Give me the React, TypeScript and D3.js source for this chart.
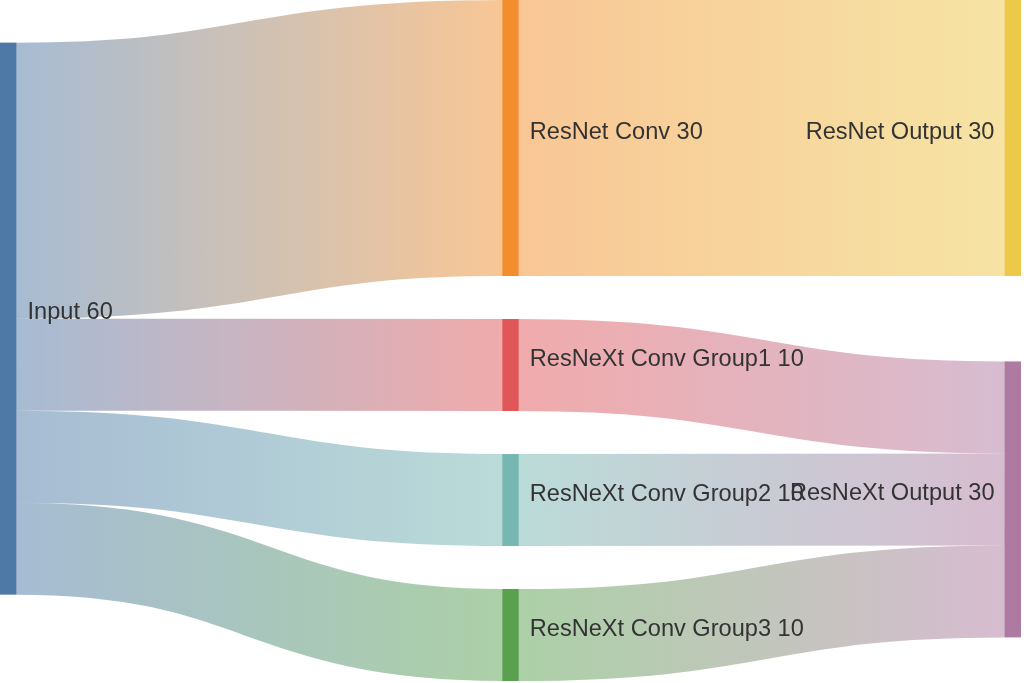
import React, { useMemo } from "react";
import * as d3 from "d3";

const nodeNames = [
  "Input",
  "ResNet Conv",
  "ResNeXt Conv Group1",
  "ResNeXt Conv Group2",
  "ResNeXt Conv Group3",
  "ResNet Output",
  "ResNeXt Output",
];
const linkSources = [
  "Input",
  "Input",
  "Input",
  "Input",
  "ResNet Conv",
  "ResNeXt Conv Group1",
  "ResNeXt Conv Group2",
  "ResNeXt Conv Group3",
];
const linkTargets = [
  "ResNet Conv",
  "ResNeXt Conv Group1",
  "ResNeXt Conv Group2",
  "ResNeXt Conv Group3",
  "ResNet Output",
  "ResNeXt Output",
  "ResNeXt Output",
  "ResNeXt Output",
];
const linkValues = [30, 10, 10, 10, 30, 10, 10, 10];

const WIDTH = 1024;
const HEIGHT = 683;

type N = any;
type L = any;

// Port of d3-sankey layout (justify alignment, default sorting)
function sankeyLayout(
  names: string[],
  srcs: string[],
  tgts: string[],
  vals: number[],
  ext: [[number, number], [number, number]],
  dx: number,
  dy: number,
  iterations = 6
) {
  const [[x0, y0], [x1, y1]] = ext;
  const nodes: N[] = names.map((name, index) => ({ name, index, sourceLinks: [], targetLinks: [] }));
  const byName = new Map(nodes.map((n) => [n.name, n]));
  const links: L[] = srcs.map((s, index) => ({
    source: byName.get(s),
    target: byName.get(tgts[index]),
    value: vals[index],
    index,
  }));
  for (const l of links) {
    l.source.sourceLinks.push(l);
    l.target.targetLinks.push(l);
  }
  for (const n of nodes) {
    n.value = Math.max(d3.sum(n.sourceLinks, (l: L) => l.value), d3.sum(n.targetLinks, (l: L) => l.value));
  }
  {
    let current = new Set(nodes);
    let next = new Set<N>();
    let x = 0;
    while (current.size) {
      for (const node of current) {
        node.depth = x;
        for (const { target } of node.sourceLinks) next.add(target);
      }
      x++;
      current = next;
      next = new Set();
    }
  }
  const xCount = (d3.max(nodes, (d: N) => d.depth) as number) + 1;
  const kx = (x1 - x0 - dx) / (xCount - 1);
  const columns: N[][] = Array.from({ length: xCount }, () => []);
  for (const node of nodes) {
    const a = node.sourceLinks.length ? node.depth : xCount - 1;
    const i = Math.max(0, Math.min(xCount - 1, Math.floor(a)));
    node.layer = i;
    node.x0 = x0 + i * kx;
    node.x1 = node.x0 + dx;
    columns[i].push(node);
  }
  const py = Math.min(dy, (y1 - y0) / ((d3.max(columns, (c) => c.length) as number) - 1));

  const ascendingBreadth = (a: N, b: N) => a.y0 - b.y0;
  const ascSrc = (a: L, b: L) => ascendingBreadth(a.source, b.source) || a.index - b.index;
  const ascTgt = (a: L, b: L) => ascendingBreadth(a.target, b.target) || a.index - b.index;

  function reorderLinks(ns: N[]) {
    for (const { sourceLinks, targetLinks } of ns) {
      sourceLinks.sort(ascTgt);
      targetLinks.sort(ascSrc);
    }
  }
  function reorderNodeLinks({ sourceLinks, targetLinks }: N) {
    for (const l of targetLinks) l.source.sourceLinks.sort(ascTgt);
    for (const l of sourceLinks) l.target.targetLinks.sort(ascSrc);
  }
  function targetTop(source: N, target: N) {
    let y = source.y0 - ((source.sourceLinks.length - 1) * py) / 2;
    for (const { target: node, width } of source.sourceLinks) {
      if (node === target) break;
      y += width + py;
    }
    for (const { source: node, width } of target.targetLinks) {
      if (node === source) break;
      y -= width;
    }
    return y;
  }
  function sourceTop(source: N, target: N) {
    let y = target.y0 - ((target.targetLinks.length - 1) * py) / 2;
    for (const { source: node, width } of target.targetLinks) {
      if (node === source) break;
      y += width + py;
    }
    for (const { target: node, width } of source.sourceLinks) {
      if (node === target) break;
      y -= width;
    }
    return y;
  }
  function ttb(ns: N[], y: number, i: number, alpha: number) {
    for (; i < ns.length; ++i) {
      const node = ns[i];
      const d = (y - node.y0) * alpha;
      if (d > 1e-6) {
        node.y0 += d;
        node.y1 += d;
      }
      y = node.y1 + py;
    }
  }
  function btt(ns: N[], y: number, i: number, alpha: number) {
    for (; i >= 0; --i) {
      const node = ns[i];
      const d = (node.y1 - y) * alpha;
      if (d > 1e-6) {
        node.y0 -= d;
        node.y1 -= d;
      }
      y = node.y0 - py;
    }
  }
  function resolveCollisions(ns: N[], alpha: number) {
    const i = ns.length >> 1;
    const subject = ns[i];
    btt(ns, subject.y0 - py, i - 1, alpha);
    ttb(ns, subject.y1 + py, i + 1, alpha);
    btt(ns, y1, ns.length - 1, alpha);
    ttb(ns, y0, 0, alpha);
  }

  const ky = d3.min(columns, (c) => (y1 - y0 - (c.length - 1) * py) / d3.sum(c, (n: N) => n.value)) as number;
  for (const ns of columns) {
    let y = y0;
    for (const node of ns) {
      node.y0 = y;
      node.y1 = y + node.value * ky;
      y = node.y1 + py;
      for (const link of node.sourceLinks) link.width = link.value * ky;
    }
    y = (y1 - y + py) / (ns.length + 1);
    for (let i = 0; i < ns.length; ++i) {
      ns[i].y0 += y * (i + 1);
      ns[i].y1 += y * (i + 1);
    }
    reorderLinks(ns);
  }

  for (let it = 0; it < iterations; ++it) {
    const alpha = Math.pow(0.99, it);
    const beta = Math.max(1 - alpha, (it + 1) / iterations);
    for (let i = columns.length - 2; i >= 0; --i) {
      const column = columns[i];
      for (const source of column) {
        let y = 0;
        let w = 0;
        for (const { target, value } of source.sourceLinks) {
          const v = value * (target.layer - source.layer);
          y += sourceTop(source, target) * v;
          w += v;
        }
        if (!(w > 0)) continue;
        const d = (y / w - source.y0) * alpha;
        source.y0 += d;
        source.y1 += d;
        reorderNodeLinks(source);
      }
      column.sort(ascendingBreadth);
      resolveCollisions(column, beta);
    }
    for (let i = 1; i < columns.length; ++i) {
      const column = columns[i];
      for (const target of column) {
        let y = 0;
        let w = 0;
        for (const { source, value } of target.targetLinks) {
          const v = value * (target.layer - source.layer);
          y += targetTop(source, target) * v;
          w += v;
        }
        if (!(w > 0)) continue;
        const d = (y / w - target.y0) * alpha;
        target.y0 += d;
        target.y1 += d;
        reorderNodeLinks(target);
      }
      column.sort(ascendingBreadth);
      resolveCollisions(column, beta);
    }
  }

  for (const node of nodes) {
    let a = node.y0;
    let b = a;
    for (const link of node.sourceLinks) {
      link.y0 = a + link.width / 2;
      a += link.width;
    }
    for (const link of node.targetLinks) {
      link.y1 = b + link.width / 2;
      b += link.width;
    }
  }
  return { nodes, links };
}

export default function App() {
  const { nodes, links } = useMemo(
    () =>
      sankeyLayout(
        nodeNames,
        linkSources,
        linkTargets,
        linkValues,
        [
          [0, 0],
          [1021, 681],
        ],
        16.5,
        43
      ),
    []
  );
  const color = d3.scaleOrdinal<string, string>().domain(nodeNames).range(d3.schemeTableau10);
  const linkPath = d3
    .linkHorizontal<any, [number, number]>()
    .source((d: L) => [d.source.x1, d.y0])
    .target((d: L) => [d.target.x0, d.y1]);

  return (
    <svg
      width={WIDTH}
      height={HEIGHT}
      viewBox={`0 0 ${WIDTH} ${HEIGHT}`}
      style={{ position: "absolute", left: 0, top: 0, background: "#fff" }}
    >
      <defs>
        {links.map((l: L, i: number) => (
          <linearGradient
            key={i}
            id={`grad-${i}`}
            gradientUnits="userSpaceOnUse"
            x1={l.source.x1}
            x2={l.target.x0}
          >
            <stop offset="0%" stopColor={color(l.source.name)} />
            <stop offset="100%" stopColor={color(l.target.name)} />
          </linearGradient>
        ))}
      </defs>
      <g>
        {nodes.map((n: N) => (
          <rect
            key={n.name}
            x={n.x0}
            y={n.y0}
            width={n.x1 - n.x0}
            height={n.y1 - n.y0}
            fill={color(n.name)}
          />
        ))}
      </g>
      <g fill="none" strokeOpacity={0.5}>
        {links.map((l: L, i: number) => (
          <path
            key={i}
            d={linkPath(l) as string}
            stroke={`url(#grad-${i})`}
            strokeWidth={Math.max(1, l.width)}
            style={{ mixBlendMode: "multiply" }}
          />
        ))}
      </g>
      <g fontFamily="'Liberation Sans', Arial, sans-serif" fontSize={23.6} fill="#333">
        {nodes.map((n: N) => {
          const left = n.x0 < WIDTH / 2;
          return (
            <text
              key={n.name}
              x={left ? n.x1 + 11 : n.x0 - 10}
              y={(n.y0 + n.y1) / 2 + 0.5}
              textAnchor={left ? "start" : "end"}
            >
              {`${n.name} ${n.value}`}
            </text>
          );
        })}
      </g>
    </svg>
  );
}
